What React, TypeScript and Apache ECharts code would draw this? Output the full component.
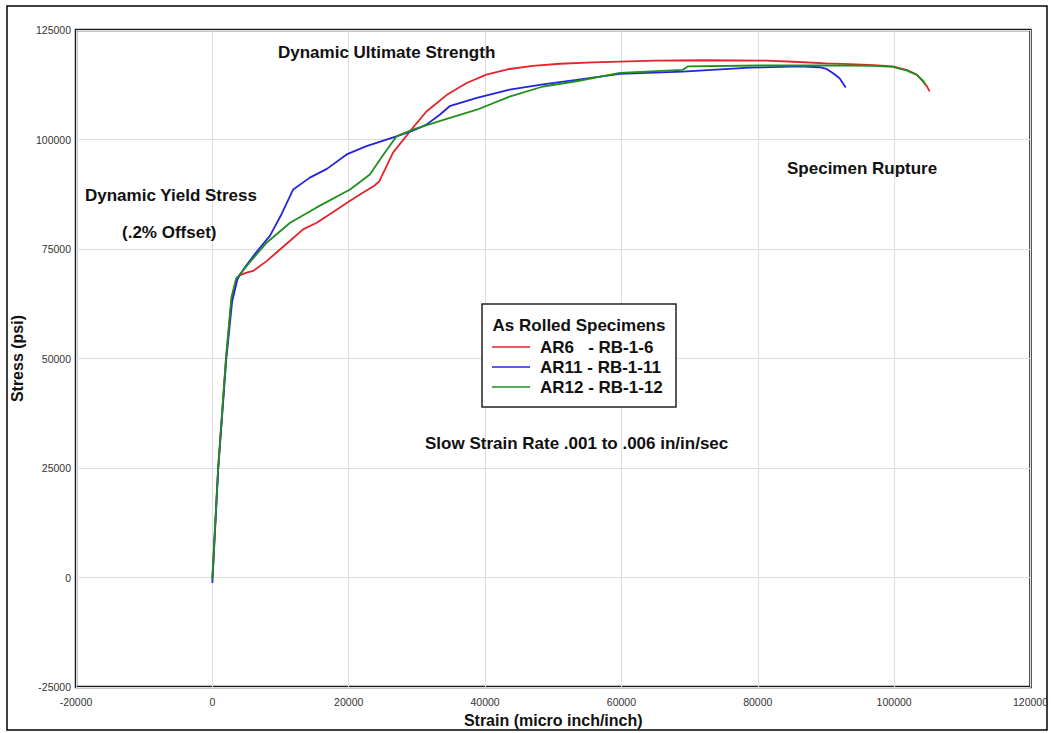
import React, { useEffect, useRef } from "react";
import * as echarts from "echarts";

const seriesNames = ["AR6   - RB-1-6", "AR11 - RB-1-11", "AR12 - RB-1-12"];
const seriesColors = ["#e5232b", "#2424e0", "#1f8f1f"];

const ar6: [number, number][] = [
  [0, 0], [850, 25000], [2000, 50000], [2800, 63500], [3400, 67500], [4000, 69000],
  [5000, 69600], [6000, 70000], [8000, 72300], [10000, 75000], [11400, 76900],
  [13300, 79500], [15300, 81000], [17500, 83200], [20200, 86000], [22000, 87800],
  [23800, 89500], [24500, 90500], [26500, 97000], [29000, 101900], [31400, 106400],
  [34400, 110200], [37300, 112900], [40200, 114800], [43600, 116100], [47000, 116800],
  [51000, 117300], [55800, 117600], [59800, 117800], [65000, 118000], [72000, 118100],
  [81300, 118000], [86000, 117700], [90000, 117400], [93500, 117200], [97000, 117000],
  [99800, 116700], [101800, 115900], [103300, 114800], [104200, 113300], [104800, 112200],
  [105200, 111000],
];

const ar11: [number, number][] = [
  [0, -1200], [850, 24500], [2050, 50000], [2900, 63000], [3700, 68200], [4100, 69300],
  [5000, 71300], [6250, 73900], [8440, 78000], [10160, 83000], [11860, 88600],
  [14300, 91300], [16800, 93300], [19700, 96600], [22600, 98500], [27000, 100700],
  [29500, 102100], [31400, 103400], [33400, 105700], [34800, 107600], [38800, 109500],
  [43600, 111400], [48500, 112600], [53400, 113600], [59800, 115000], [69000, 115500],
  [78800, 116400], [86100, 116700], [89000, 116500], [90100, 116100], [91000, 115200],
  [92000, 114000], [92900, 111900],
];

const ar12: [number, number][] = [
  [0, -500], [850, 25000], [2000, 50000], [2800, 64000], [3500, 68300], [4100, 69300],
  [5500, 72000], [8000, 76500], [11400, 81000], [15300, 84500], [20200, 88600],
  [23100, 92000], [25100, 96600], [27000, 100700], [29500, 102300], [33900, 104500],
  [38800, 106800], [43600, 109800], [48500, 112100], [53400, 113300], [59800, 115200],
  [69000, 115900], [69800, 116700], [80300, 116900], [93500, 116900], [97000, 116800],
  [99800, 116600], [101800, 115800], [103300, 114800], [104300, 113300], [104600, 112500],
];

const seriesData = [ar6, ar11, ar12];

const xAxisTitle = "Strain (micro inch/inch)";
const yAxisTitle = "Stress (psi)";
const legendTitle = "As Rolled Specimens";
const annotations = [
  { text: "Dynamic Ultimate Strength", x: 278, y: 52 },
  { text: "Dynamic Yield Stress", x: 85, y: 195 },
  { text: "(.2% Offset)", x: 122, y: 232 },
  { text: "Specimen Rupture", x: 787, y: 168 },
  { text: "Slow Strain Rate .001 to .006 in/in/sec", x: 425, y: 443 },
];

const FONT = "'Liberation Sans', Arial, sans-serif";

export default function App() {
  const ref = useRef<HTMLDivElement>(null);
  useEffect(() => {
    document.body.style.margin = "0";
    const chart = echarts.init(ref.current!, null, { renderer: "svg" });
    const option: any = {
      animation: false,
      backgroundColor: "#ffffff",
      grid: {
        left: 76,
        top: 30,
        right: 20,
        bottom: 42,
        show: true,
        borderColor: "#1a1a1a",
        borderWidth: 2.5,
        backgroundColor: "transparent",
      },
      xAxis: {
        type: "value",
        min: -20000,
        max: 120000,
        interval: 20000,
        name: xAxisTitle,
        nameLocation: "middle",
        nameGap: 21,
        nameTextStyle: { fontFamily: FONT, fontWeight: "bold", fontSize: 16, color: "#111" },
        axisLine: { show: false },
        axisTick: { show: false },
        axisLabel: {
          fontFamily: FONT,
          fontSize: 10.5,
          color: "#333",
          margin: 9,
          formatter: (v: number) => String(v),
        },
        splitLine: { show: true, lineStyle: { color: "#dddddd", width: 1 } },
      },
      yAxis: {
        type: "value",
        min: -25000,
        max: 125000,
        interval: 25000,
        name: yAxisTitle,
        nameLocation: "middle",
        nameGap: 50,
        nameTextStyle: { fontFamily: FONT, fontWeight: "bold", fontSize: 16, color: "#111" },
        axisLine: { show: false },
        axisTick: { show: false },
        axisLabel: {
          fontFamily: FONT,
          fontSize: 10.5,
          color: "#333",
          margin: 5,
          formatter: (v: number) => String(v),
        },
        splitLine: { show: true, lineStyle: { color: "#dddddd", width: 1 } },
      },
      legend: {
        orient: "vertical",
        left: 492,
        top: 337,
        itemWidth: 38,
        itemHeight: 1.6,
        itemGap: 0,
        icon: "rect",
        padding: 0,
        textStyle: {
          fontFamily: FONT,
          fontWeight: "bold",
          fontSize: 17,
          color: "#111",
          lineHeight: 20,
          padding: [0, 0, 0, 5],
        },
        data: seriesNames,
      },
      series: seriesNames.map((name, i) => ({
        name,
        type: "line",
        data: seriesData[i],
        showSymbol: false,
        symbol: "none",
        smooth: false,
        lineStyle: { color: seriesColors[i], width: 1.8 },
        itemStyle: { color: seriesColors[i] },
        z: 2 + i,
      })),
      graphic: [
        {
          type: "rect",
          shape: { x: 7, y: 6, width: 1040, height: 724 },
          style: { fill: "none", stroke: "#000", lineWidth: 1.5 },
          silent: true,
        },
        {
          type: "rect",
          shape: { x: 482, y: 304, width: 194, height: 103 },
          style: { fill: "#fff", stroke: "#222", lineWidth: 1.5 },
          z: 1,
          silent: true,
        },
        {
          type: "text",
          x: 579,
          y: 325,
          z: 10,
          style: {
            text: legendTitle,
            font: `bold 17px ${FONT}`,
            fill: "#111",
            textAlign: "center",
            textVerticalAlign: "middle",
          },
        },
        ...annotations.map((a) => ({
          type: "text",
          x: a.x,
          y: a.y,
          z: 10,
          style: {
            text: a.text,
            font: `bold 17px ${FONT}`,
            fill: "#111",
            textAlign: "left",
            textVerticalAlign: "middle",
          },
        })),
      ],
    };
    chart.setOption(option);
    return () => chart.dispose();
  }, []);
  return <div ref={ref} style={{ width: 1051, height: 733 }} />;
}
